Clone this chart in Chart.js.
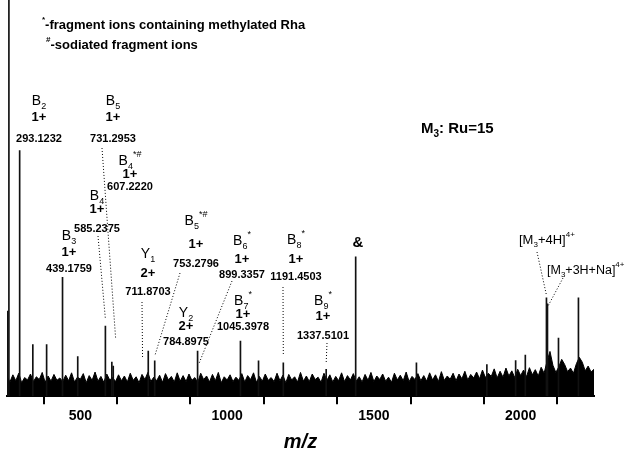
<!DOCTYPE html>
<html>
<head>
<meta charset="utf-8">
<script src="https://cdn.jsdelivr.net/npm/chart.js@4.4.1/dist/chart.umd.min.js"></script>
<style>
  body { margin: 0; background: #fff; }
</style>
</head>
<body>
<canvas id="spec" width="636" height="458"></canvas>
<script>
// peaks above the noise (m/z, relative intensity %)
const peakMz = [252, 256.5, 293.12, 338, 385, 439.18, 491, 585.24, 607.22, 612, 731.3, 753.28,
  899.34, 1045.4, 1107, 1191.45, 1337.51, 1438, 1645, 1885, 1983, 2016, 2088, 2091.5, 2129, 2197]
const peakInt = [21.5, 100, 62, 13, 13, 30, 10, 17.7, 8.6, 7.6, 11.4, 8.9,
  11.4, 13.9, 8.9, 8.4, 6.8, 35.2, 8.4, 8, 9, 10.4, 24.8, 23.3, 14.7, 24.8]

// noise floor, read every 10 m/z starting at 250
const noiseStart = 250
const noiseStep = 10
const noiseLevel = [
  5.0, 3.6, 5.4, 3.9, 5.8, 3.4, 4.7, 4.1, 5.6, 3.7, 4.9, 4.2, 6.0, 3.5, 5.1, 3.8, 5.5, 4.0, 4.6, 3.7,
  5.3, 3.9, 5.9, 3.6, 4.8, 4.3, 5.7, 3.4, 5.2, 4.0, 6.1, 3.8, 5.0, 3.5, 5.6, 4.1, 4.7, 3.7, 5.4, 3.9,
  5.1, 3.6, 5.8, 4.0, 4.9, 3.4, 5.5, 4.2, 6.0, 3.7, 4.8, 3.9, 5.3, 3.5, 5.7, 4.1, 5.0, 3.6, 5.9, 3.8,
  5.2, 3.7, 5.6, 4.0, 4.7, 3.5, 5.8, 4.2, 5.1, 3.6, 5.5, 3.9, 6.0, 3.4, 4.9, 4.1, 5.4, 3.7, 4.8, 4.0,
  5.7, 3.6, 5.2, 4.2, 5.9, 3.5, 5.0, 3.8, 5.6, 4.0, 4.7, 3.7, 5.8, 3.9, 5.3, 3.4, 5.5, 4.1, 4.9, 3.6,
  6.0, 3.8, 5.1, 3.7, 5.6, 4.2, 4.8, 3.5, 5.8, 4.0, 5.4, 3.6, 5.0, 3.9, 5.9, 3.7, 5.2, 4.1, 5.7, 3.8,
  4.9, 3.6, 5.5, 4.0, 6.0, 3.7, 5.1, 4.2, 5.6, 3.8, 4.8, 3.5, 5.8, 4.1, 5.3, 3.9, 6.1, 3.7, 5.0, 4.2,
  5.7, 3.9, 5.2, 3.8, 5.9, 4.1, 5.4, 3.7, 6.2, 4.0, 5.1, 4.3, 5.8, 3.9, 5.6, 4.4, 6.3, 4.1, 5.5, 4.6,
  6.1, 4.4, 6.6, 4.7, 5.8, 5.0, 6.9, 4.6, 6.3, 4.8, 7.1, 5.1, 6.4, 4.7, 6.8, 5.2, 6.6, 4.9, 7.2, 5.4,
  6.7, 5.1, 7.3, 5.8, 8.8, 11.3, 7.8, 6.0, 7.4, 9.3, 8.0, 6.2, 7.1, 5.8, 8.2, 9.8, 8.6, 6.4, 7.6, 6.1,
  6.8]

const xTicks = [500, 1000, 1500, 2000]

const FONT = 'Liberation Sans, Arial, sans-serif'

// ion labels: [name, subscript, superscript, charge, mass, x, nameY, chargeY, massY]
const ionLabels = [
  ['B', '2', '', '1+', '293.1232', 39, 105, 121, 142],
  ['B', '5', '', '1+', '731.2953', 113, 105, 121, 142],
  ['B', '4', '*#', '1+', '607.2220', 130, 165, 178, 190],
  ['B', '4', '', '1+', '585.2375', 97, 200, 213, 232],
  ['B', '3', '', '1+', '439.1759', 69, 240, 256, 272],
  ['Y', '1', '', '2+', '711.8703', 148, 258, 277, 295],
  ['B', '5', '*#', '1+', '753.2796', 196, 225, 248, 267],
  ['Y', '2', '', '2+', '784.8975', 186, 317, 330, 345],
  ['B', '6', '*', '1+', '899.3357', 242, 245, 263, 278],
  ['B', '7', '*', '1+', '1045.3978', 243, 305, 318, 330],
  ['B', '8', '*', '1+', '1191.4503', 296, 244, 263, 280],
  ['B', '9', '*', '1+', '1337.5101', 323, 305, 320, 339]
]

// dotted leaders: start pixel, end at (m/z, intensity)
const leaders = [
  [102, 148, 620, 14.7],
  [98, 236, 585.24, 19.5],
  [142, 302, 711.87, 9.7],
  [180, 273, 753.28, 10.1],
  [232, 281, 905, 8.4],
  [283, 287, 1191.45, 10.2],
  [327, 343, 1337.51, 8.4],
  [537, 252, 2088, 25.5],
  [563, 278, 2091.5, 22.5]
]

function rich(ctx, parts, x, y, size, weight, align) {
  // parts: [text, kind] kind: '' | 'sub' | 'sup'
  let w = 0
  const pieces = parts.map(p => {
    const s = p[1] ? Math.round(size * 0.65) : size
    ctx.font = weight + ' ' + s + 'px ' + FONT
    const pw = ctx.measureText(p[0]).width
    w += pw
    return { t: p[0], k: p[1], s: s, w: pw }
  })
  let cx = align === 'center' ? x - w / 2 : x
  ctx.textAlign = 'left'
  ctx.textBaseline = 'alphabetic'
  pieces.forEach(p => {
    ctx.font = weight + ' ' + p.s + 'px ' + FONT
    let dy = 0
    if (p.k === 'sub') dy = size * 0.25
    if (p.k === 'sup') dy = -size * 0.55
    ctx.fillText(p.t, cx, y + dy)
    cx += p.w
  })
}

const annot = {
  id: 'annot',
  afterDatasetsDraw(chart) {
    const { ctx, scales: { x, y } } = chart
    ctx.save()
    ctx.fillStyle = '#000'

    // legend notes
    rich(ctx, [['*', 'sup'], ['-fragment ions containing methylated Rha', '']], 42, 29, 13, 'bold', 'left')
    rich(ctx, [['#', 'sup'], ['-sodiated fragment ions', '']], 46, 49, 13, 'bold', 'left')

    rich(ctx, [['M', ''], ['3', 'sub'], [': Ru=15', '']], 421, 133, 15, 'bold', 'left')

    ionLabels.forEach(l => {
      const parts = [[l[0], ''], [l[1], 'sub']]
      if (l[2]) parts.push([l[2], 'sup'])
      rich(ctx, parts, l[5], l[6], 14, 'normal', 'center')
      rich(ctx, [[l[3], '']], l[5], l[7], 13, 'bold', 'center')
      rich(ctx, [[l[4], '']], l[5], l[8], 11, 'bold', 'center')
    })

    rich(ctx, [['&', '']], 358, 247, 15, 'bold', 'center')
    rich(ctx, [['[M', ''], ['3', 'sub'], ['+4H]', ''], ['4+', 'sup']], 519, 244, 13, 'normal', 'left')
    rich(ctx, [['[M', ''], ['3', 'sub'], ['+3H+Na]', ''], ['4+', 'sup']], 547, 274, 12.5, 'normal', 'left')

    ctx.strokeStyle = '#000'
    ctx.lineWidth = 1
    ctx.setLineDash([1, 2])
    leaders.forEach(d => {
      ctx.beginPath()
      ctx.moveTo(d[0], d[1])
      ctx.lineTo(x.getPixelForValue(d[2]), y.getPixelForValue(d[3]))
      ctx.stroke()
    })
    ctx.restore()
  }
}

const peaks = peakMz.map((m, i) => ({ x: m, y: peakInt[i] }))
const noise = noiseLevel.map((v, i) => ({ x: noiseStart + i * noiseStep, y: v }))

new Chart(document.getElementById('spec'), {
  type: 'bar',
  data: {
    datasets: [
      {
        type: 'bar',
        data: peaks,
        backgroundColor: '#111',
        barThickness: 1,
        order: 1
      },
      {
        type: 'line',
        data: noise,
        fill: 'origin',
        backgroundColor: '#000',
        borderColor: '#000',
        borderWidth: 1,
        pointRadius: 0,
        tension: 0,
        order: 2
      }
    ]
  },
  options: {
    responsive: false,
    animation: false,
    layout: { padding: { left: 7, right: 42, top: 0, bottom: 0 } },
    plugins: { legend: { display: false }, tooltip: { enabled: false } },
    scales: {
      x: {
        type: 'linear',
        min: 250,
        max: 2250,
        offset: false,
        border: { color: '#000', width: 2 },
        grid: { drawOnChartArea: false, tickLength: 8, color: '#000', lineWidth: 2 },
        ticks: {
          stepSize: 250,
          autoSkip: false,
          maxRotation: 0,
          padding: 4,
          color: '#000',
          font: { family: FONT, weight: 'bold', size: 14 },
          callback: v => xTicks.includes(v) ? String(v) : ''
        },
        title: {
          display: true,
          text: 'm/z',
          color: '#000',
          padding: { top: 1, bottom: 4 },
          font: { family: FONT, weight: 'bold', style: 'italic', size: 20 }
        }
      },
      y: { display: false, min: 0, max: 100 }
    }
  },
  plugins: [annot]
})
</script>
</body>
</html>
